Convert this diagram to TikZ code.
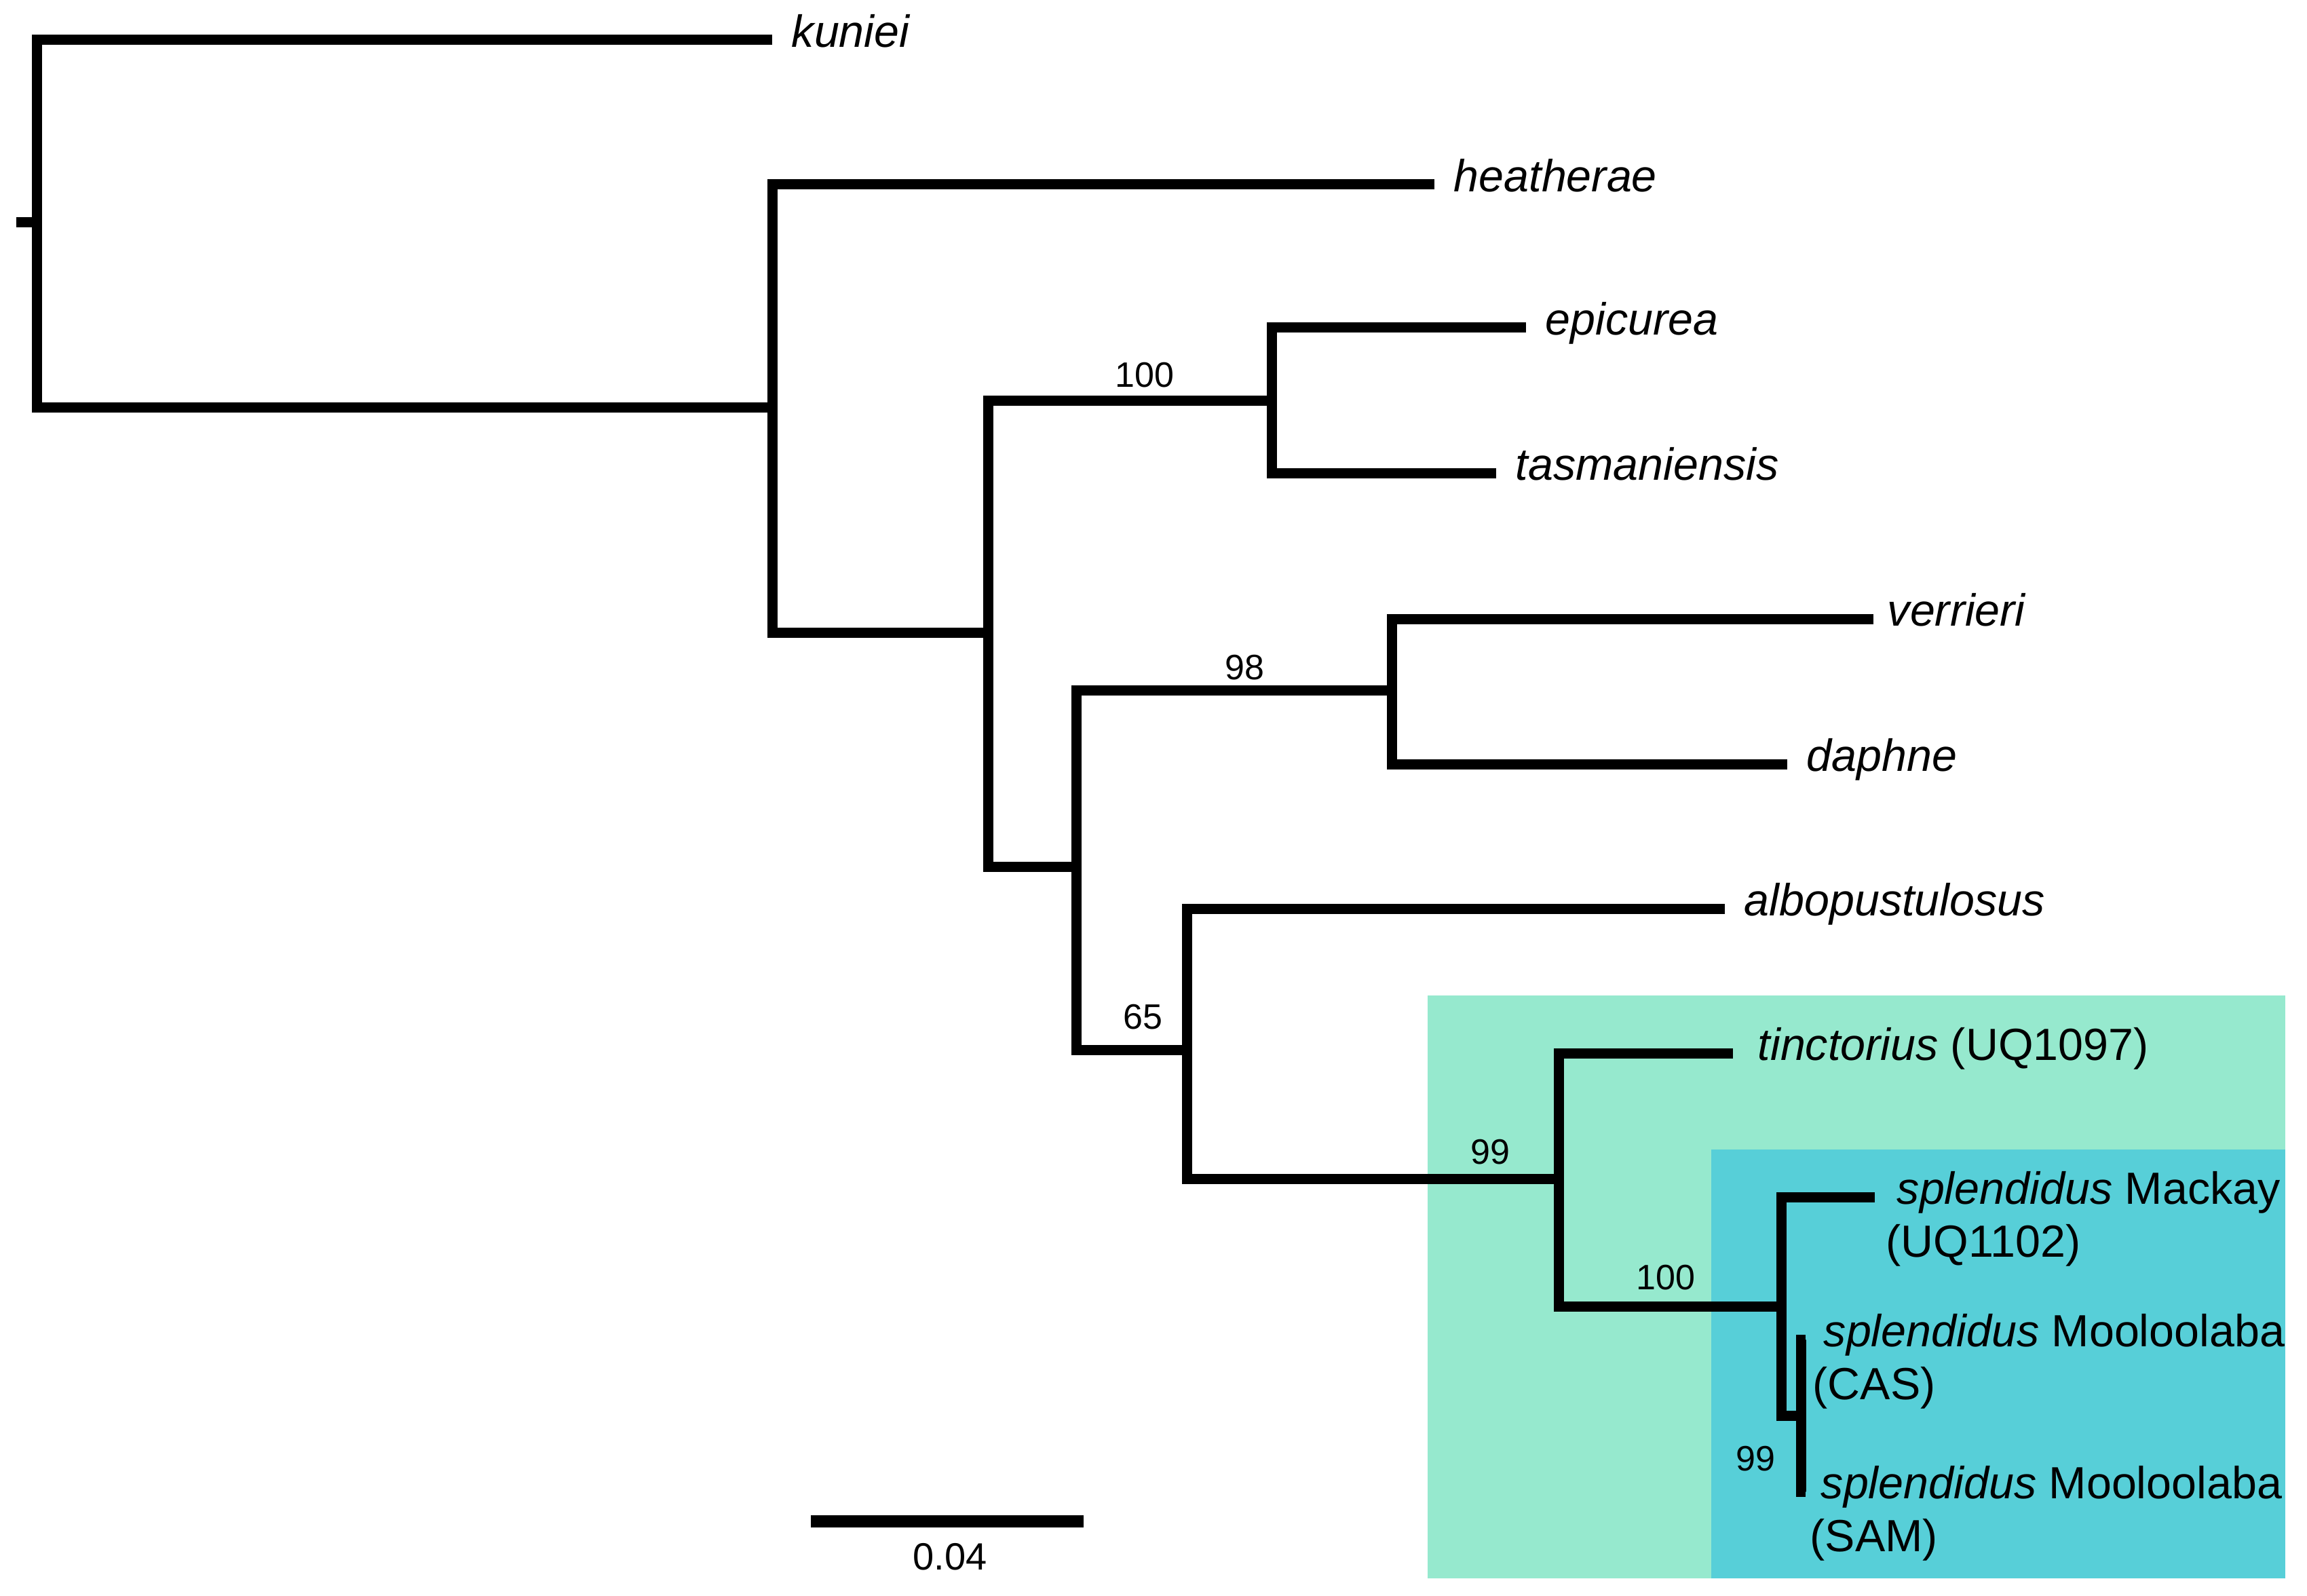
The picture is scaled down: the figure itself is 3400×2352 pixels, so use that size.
\documentclass[tikz,border=0pt]{standalone}
\usepackage{fontspec}
\setmainfont{Liberation Sans}
\usetikzlibrary{positioning}
\definecolor{cladegreen}{RGB}{150,233,206}
\definecolor{cladeblue}{RGB}{87,207,216}
\tikzset{
  branch/.style={line width=3.75pt},
  tiplab/.style={anchor=mid west, inner sep=0pt, font=\fontsize{16.6}{19.5}\selectfont},
  tiplabB/.style={anchor=base west, inner sep=0pt, font=\fontsize{16.6}{19.5}\selectfont},
  boot/.style={inner sep=0pt, font=\fontsize{13}{15}\selectfont},
}
\begin{document}
\begin{tikzpicture}[x=0.25pt, y=-0.25pt]
\useasboundingbox (0,0) rectangle (3400,2352);
% clade boxes
\fill[cladegreen] (2104,1467) rectangle (3368,2326);
\fill[cladeblue] (2522,1694) rectangle (3368,2326);
% internal nodes
\coordinate (rootS) at (24,328);
\coordinate (root) at (54,328);
\coordinate (nA) at (1138,601);
\coordinate (nB) at (1456,932);
\coordinate (nC) at (1874,591);
\coordinate (nD) at (1586,1277);
\coordinate (nE) at (2051,1017);
\coordinate (nF) at (1749,1547);
\coordinate (nG) at (2297,1737);
\coordinate (nH) at (2625,1925);
\coordinate (nI) at (2654,2086);
% tips
\coordinate (tKun) at (1138,59);
\coordinate (tHea) at (2114,272);
\coordinate (tEpi) at (2249,483);
\coordinate (tTas) at (2205,697);
\coordinate (tVer) at (2761,912);
\coordinate (tDap) at (2634,1126);
\coordinate (tAlb) at (2542,1339);
\coordinate (tTin) at (2554,1552);
\coordinate (tMac) at (2763,1764);
\coordinate (tCas) at (2661,1974);
\coordinate (tSam) at (2661,2198);
% branches
\draw[branch] (rootS) -- (root);
\draw[branch] (tKun) -| (root) |- (nA);
\draw[branch] (tHea) -| (nA) |- (nB);
\draw[branch] (nC) -| (nB) |- (nD);
\draw[branch] (tEpi) -| (nC) |- (tTas);
\draw[branch] (nE) -| (nD) |- (nF);
\draw[branch] (tVer) -| (nE) |- (tDap);
\draw[branch] (tAlb) -| (nF) |- (nG);
\draw[branch] (tTin) -| (nG) |- (nH);
\draw[branch] (tMac) -| (nH) |- (nI);
\draw[branch] (tCas) -| (nI) |- (tSam);
% tip labels
\node[tiplab] (lKun) at ([xshift=7pt]tKun) {\textit{kuniei}};
\node[tiplab] (lHea) at ([xshift=7pt]tHea) {\textit{heatherae}};
\node[tiplab] (lEpi) at ([xshift=7pt]tEpi) {\textit{epicurea}};
\node[tiplab] (lTas) at ([xshift=7pt]tTas) {\textit{tasmaniensis}};
\node[tiplab] (lVer) at ([xshift=5pt]tVer) {\textit{verrieri}};
\node[tiplab] (lDap) at ([xshift=7pt]tDap) {\textit{daphne}};
\node[tiplab] (lAlb) at ([xshift=7pt]tAlb) {\textit{albopustulosus}};
\node[tiplab] (lTin) at ([xshift=9pt]tTin) {\textit{tinctorius} (UQ1097)};
\node[tiplab] (lMac) at ([xshift=8pt]tMac) {\textit{splendidus} Mackay};
\node[tiplabB] (lMacB) at ([xshift=-4pt,yshift=-19.5pt]lMac.base west) {(UQ1102)};
\node[tiplab] (lCas) at ([xshift=6.5pt]tCas) {\textit{splendidus} Mooloolaba};
\node[tiplabB] (lCasB) at ([xshift=-4pt,yshift=-19.5pt]lCas.base west) {(CAS)};
\node[tiplab] (lSam) at ([xshift=5.5pt]tSam) {\textit{splendidus} Mooloolaba};
\node[tiplabB] (lSamB) at ([xshift=-4pt,yshift=-19.5pt]lSam.base west) {(SAM)};
% bootstrap values
\node[boot] (bC) at (1687,553) {100};
\node[boot] (bE) at (1834,984) {98};
\node[boot] (bF) at (1684,1499) {65};
\node[boot] (bG) at (2196,1698) {99};
\node[boot] (bH) at (2455,1883) {100};
\node[boot] (bI) at (2587,2150) {99};
% scale bar
\coordinate (sbL) at (1195,2242);
\coordinate (sbR) at (1597,2242);
\draw[line width=4.5pt] (sbL) -- (sbR);
\node[boot, font=\fontsize{14}{16}\selectfont] (sbLab) at (1400,2294) {0.04};
\end{tikzpicture}
\end{document}
